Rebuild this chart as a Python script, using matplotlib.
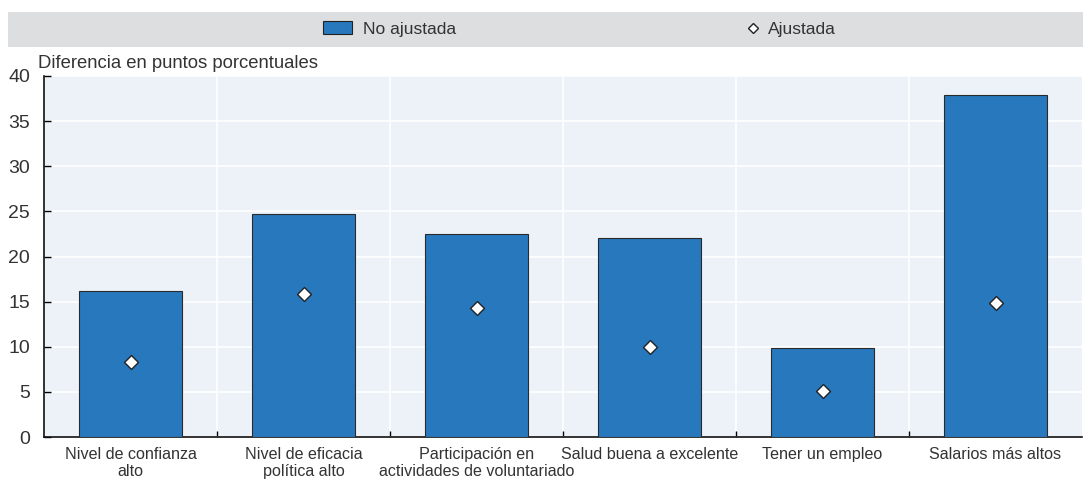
import matplotlib.pyplot as plt
from matplotlib.patches import Rectangle
from matplotlib.lines import Line2D
import numpy as np

plt.rcParams['font.family'] = ['Liberation Sans', 'DejaVu Sans']

# Data
categories = ['Nivel de confianza\nalto', 'Nivel de eficacia\npolítica alto',
              'Participación en\nactividades de voluntariado', 'Salud buena a excelente',
              'Tener un empleo', 'Salarios más altos']
no_ajustada = [16.2, 24.7, 22.5, 22.0, 9.9, 37.9]
ajustada = [8.3, 15.9, 14.3, 10.0, 5.1, 14.8]
legend_labels = ['No ajustada', 'Ajustada']

bar_color = '#2878BD'
bg_color = '#EDF2F9'
text_color = '#333333'

fig = plt.figure(figsize=(10.83, 4.8), dpi=100)
ax = fig.add_axes([44 / 1083, 1 - 437 / 480, 1038 / 1083, (437 - 76) / 480])
ax.set_facecolor(bg_color)

x = np.arange(len(categories))
ax.bar(x, no_ajustada, width=0.6, color=bar_color, edgecolor='#2a2a2a', linewidth=0.8, zorder=3)
ax.scatter(x, ajustada, marker='D', s=50, facecolor='white', edgecolor='#222222', linewidth=1.0, zorder=4)

ax.set_xlim(-0.5, len(categories) - 0.5)
ax.set_ylim(0, 40)
ax.set_yticks(range(0, 41, 5))
ax.set_xticks(x)
ax.set_xticklabels(categories, fontsize=11.6, color=text_color, linespacing=1.15)
ax.tick_params(axis='x', length=0, pad=7)
ax.tick_params(axis='y', direction='in', length=5, width=1, labelsize=14, labelcolor=text_color, pad=10)

# vertical grid at category boundaries and small ticks there
bounds = np.arange(0.5, len(categories) - 0.5, 1)
ax.set_xticks(bounds, minor=True)
ax.tick_params(axis='x', which='minor', direction='in', length=4, width=1)
ax.grid(True, axis='y', color='white', linewidth=1.2, zorder=0)
ax.grid(True, axis='x', which='minor', color='white', linewidth=1.2, zorder=0)
ax.set_axisbelow(True)

for s in ['top', 'right']:
    ax.spines[s].set_visible(False)
for s in ['left', 'bottom']:
    ax.spines[s].set_color('#111111')
    ax.spines[s].set_linewidth(1.2)

fig.text(38 / 1083, 1 - 63 / 480, 'Diferencia en puntos porcentuales', fontsize=13.3,
         color=text_color, va='center', ha='left')

# legend band
fig.patches.append(Rectangle((8 / 1083, 1 - 47 / 480), 1075 / 1083, 35 / 480,
                             transform=fig.transFigure, facecolor='#DDDEE0', edgecolor='none', zorder=0))
bar_handle = Rectangle((0, 0), 1, 1, facecolor=bar_color, edgecolor='#222222', linewidth=0.8)
dot_handle = Line2D([], [], marker='D', linestyle='none', markersize=5.5, markerfacecolor='white',
                    markeredgecolor='#222222', markeredgewidth=1.0)
leg_y = 1 - 29 / 480
fig.legend([bar_handle], legend_labels[:1], loc='center left', bbox_to_anchor=(323 / 1083, leg_y),
           frameon=False, fontsize=12.5, borderpad=0, borderaxespad=0, handlelength=1.67,
           handleheight=0.8, handletextpad=0.63, labelcolor=text_color)
fig.legend([dot_handle], legend_labels[1:], loc='center left', bbox_to_anchor=(746 / 1083, leg_y),
           frameon=False, fontsize=12.5, borderpad=0, borderaxespad=0, handlelength=0.8,
           handletextpad=0.46, labelcolor=text_color)

fig.savefig('out.png', dpi=100)
